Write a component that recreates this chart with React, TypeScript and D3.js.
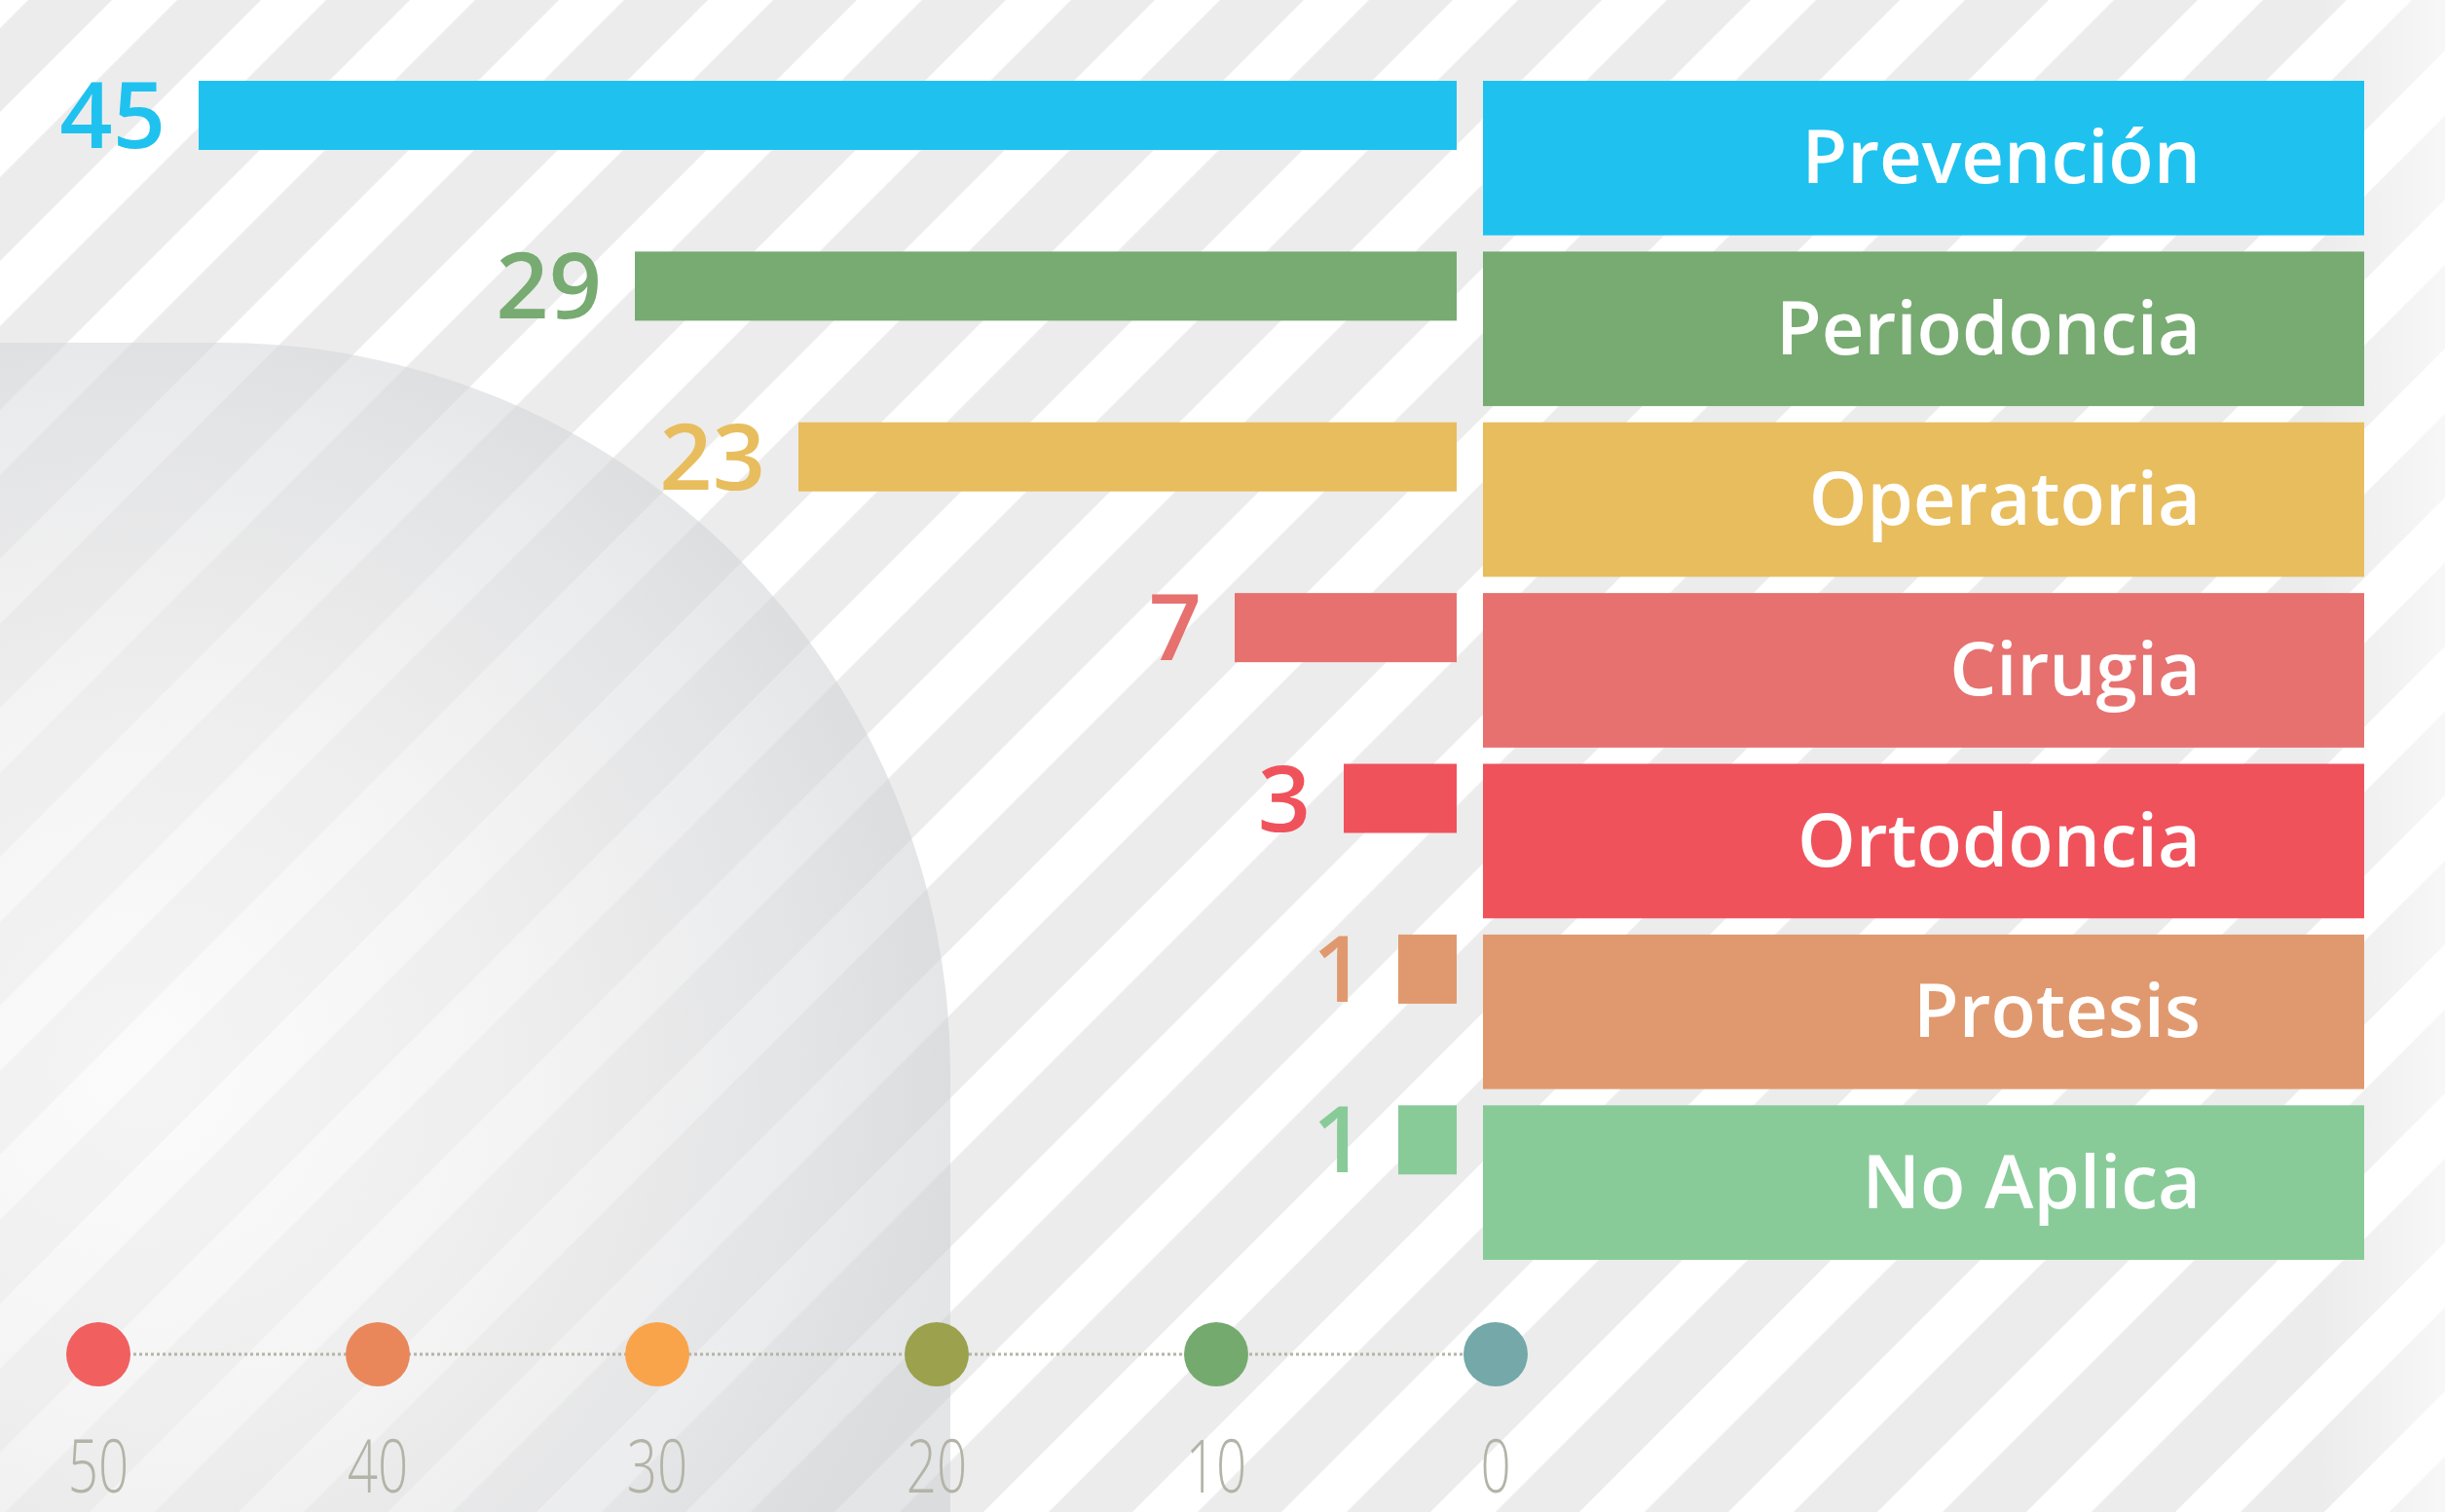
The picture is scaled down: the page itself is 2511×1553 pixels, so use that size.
import React, { useEffect, useRef } from "react";
import * as d3 from "d3";

// --- data ---
const categories = ["Prevención", "Periodoncia", "Operatoria", "Cirugia", "Ortodoncia", "Protesis", "No Aplica"];
const values = [45, 29, 23, 7, 3, 1, 1];
const barColors = ["#1fc2ef", "#77ab71", "#e8bd5e", "#e6716f", "#f0525c", "#e0996e", "#88cb99"];

const axisTicks = [50, 40, 30, 20, 10, 0];
const axisColors = ["#f15f5f", "#e9875b", "#f9a44b", "#9ba14c", "#75aa6f", "#75a8a8"];

export default function App() {
  const svgRef = useRef<SVGSVGElement | null>(null);

  useEffect(() => {
    const width = 2511;
    const height = 1553;
    const svg = d3.select(svgRef.current)
      .attr("width", width)
      .attr("height", height);
    svg.selectAll("*").remove();

    const defs = svg.append("defs");

    // --- striped background ---
    const period = 153 / Math.SQRT2;
    const pat = defs.append("pattern")
      .attr("id", "stripes")
      .attr("patternUnits", "userSpaceOnUse")
      .attr("width", period)
      .attr("height", period)
      .attr("patternTransform", `rotate(45) translate(${115 / Math.SQRT2},0)`);
    pat.append("rect").attr("width", period).attr("height", period).attr("fill", "#ececec");
    pat.append("rect").attr("width", 67 / Math.SQRT2).attr("height", period).attr("fill", "#ffffff");

    svg.append("rect")
      .attr("width", width)
      .attr("height", height)
      .attr("fill", "url(#stripes)");

    // fade on the right edge
    const fade = defs.append("linearGradient")
      .attr("id", "fadeRight")
      .attr("gradientUnits", "userSpaceOnUse")
      .attr("x1", 2380).attr("x2", 2511).attr("y1", 0).attr("y2", 0);
    fade.append("stop").attr("offset", 0).attr("stop-color", "#fff").attr("stop-opacity", 0);
    fade.append("stop").attr("offset", 1).attr("stop-color", "#fff").attr("stop-opacity", 0.6);
    svg.append("rect")
      .attr("x", 2380).attr("width", 131).attr("height", height)
      .attr("fill", "url(#fadeRight)");

    // --- big grey rounded shape, bottom left ---
    const shade = defs.append("radialGradient")
      .attr("id", "shade")
      .attr("gradientUnits", "userSpaceOnUse")
      .attr("cx", 150).attr("cy", 1100).attr("r", 850);
    const shadeStops = [
      [0, "rgb(249,249,249)", 0.63],
      [0.45, "rgb(239,239,240)", 0.68],
      [0.8, "rgb(222,223,225)", 0.6],
      [1, "rgb(204,206,209)", 0.53],
    ];
    shadeStops.forEach(([o, c, a]) => {
      shade.append("stop").attr("offset", o).attr("stop-color", c).attr("stop-opacity", a);
    });

    const shapeTop = 352;
    const shapeRight = 976;
    const r = 750;
    const shape = d3.path();
    shape.moveTo(-10, height + 10);
    shape.lineTo(-10, shapeTop);
    shape.lineTo(shapeRight - r, shapeTop);
    shape.arc(shapeRight - r, shapeTop + r, r, -Math.PI / 2, 0);
    shape.lineTo(shapeRight, height + 10);
    shape.closePath();
    svg.append("path").attr("d", shape.toString()).attr("fill", "url(#shade)");

    // --- scales ---
    const y = d3.scaleBand()
      .domain(categories)
      .range([83, 1294])
      .paddingInner(0.095)
      .paddingOuter(0);

    const barRight = 1496;
    const barW = d3.scaleLinear().domain([0, 45]).range([32, 1292]);
    const barH = 71;

    const rows = categories.map((c, i) => ({ name: c, value: values[i], color: barColors[i] }));

    // --- bars ---
    svg.append("g")
      .selectAll("rect")
      .data(rows)
      .join("rect")
      .attr("x", d => barRight - barW(d.value))
      .attr("y", d => y(d.name))
      .attr("width", d => barW(d.value))
      .attr("height", barH)
      .attr("fill", d => d.color);

    // value labels
    svg.append("g")
      .selectAll("text")
      .data(rows)
      .join("text")
      .attr("x", d => barRight - barW(d.value) - 34)
      .attr("y", d => y(d.name) + 69)
      .attr("text-anchor", "end")
      .attr("font-family", "'Open Sans', sans-serif")
      .attr("font-weight", 600)
      .attr("font-size", 95)
      .attr("fill", d => d.color)
      .text(d => d.value);

    // --- category boxes ---
    const boxX = 1523;
    const boxW = 905;
    const boxes = svg.append("g")
      .selectAll("g")
      .data(rows)
      .join("g")
      .attr("transform", d => `translate(${boxX},${y(d.name)})`);

    boxes.append("rect")
      .attr("width", boxW)
      .attr("height", y.bandwidth())
      .attr("fill", d => d.color);

    boxes.append("text")
      .attr("x", 2260 - boxX)
      .attr("y", y.bandwidth() / 2 + 26)
      .attr("text-anchor", "end")
      .attr("font-family", "'Open Sans', sans-serif")
      .attr("font-weight", 600)
      .attr("font-size", 76)
      .attr("fill", "#ffffff")
      .text(d => d.name);

    // --- decorative axis at the bottom ---
    const ax = d3.scaleLinear().domain([50, 0]).range([101, 1536]);
    const axisY = 1391;

    svg.append("line")
      .attr("x1", ax(50)).attr("x2", ax(0))
      .attr("y1", axisY).attr("y2", axisY)
      .attr("stroke", "#b3b3a8")
      .attr("stroke-width", 3)
      .attr("stroke-dasharray", "3,3");

    svg.append("g")
      .selectAll("circle")
      .data(axisTicks)
      .join("circle")
      .attr("cx", d => ax(d))
      .attr("cy", axisY)
      .attr("r", 33)
      .attr("fill", (d, i) => axisColors[i]);

    svg.append("g")
      .selectAll("text")
      .data(axisTicks)
      .join("text")
      .attr("transform", d => `translate(${ax(d)},1533) scale(0.72,1)`)
      .attr("text-anchor", "middle")
      .attr("font-family", "'Open Sans', sans-serif")
      .attr("font-weight", 300)
      .attr("font-size", 76)
      .attr("fill", "#b3b3a8")
      .text(d => d);
  }, []);

  return <svg ref={svgRef} style={{ position: "absolute", left: 0, top: 0, display: "block" }}></svg>;
}
